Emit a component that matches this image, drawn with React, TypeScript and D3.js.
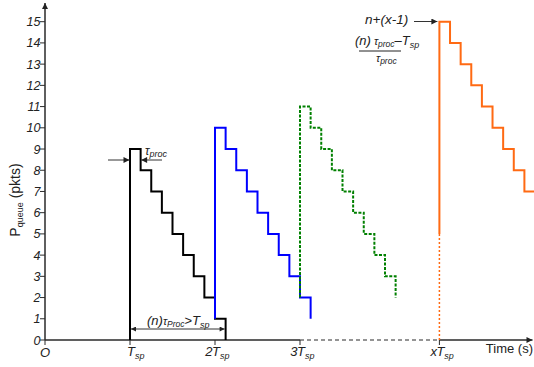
import React from "react";
import * as d3 from "d3";

// ---- Data (time in units of T_sp, queue in packets) ----
const TAU = 0.125; // tau_proc in units of T_sp
const yTicks = [0, 1, 2, 3, 4, 5, 6, 7, 8, 9, 10, 11, 12, 13, 14, 15];
const xTickPos = [1, 2, 3, 4.64];
const xTickPrefix = ["", "2", "3", "x"];

const blackStart = 1;
const blackBase = 0;
const blackLevels = [9, 8, 7, 6, 5, 4, 3, 2, 1];
const blackEnd = 0;

const blueStart = 2;
const blueBase = 1;
const blueLevels = [10, 9, 8, 7, 6, 5, 4, 3, 2];
const blueEnd = 1;

const greenStart = 3;
const greenBase = 2;
const greenLevels = [11, 10, 9, 8, 7, 6, 5, 4, 3];
const greenEnd = 2;

const orangeStart = 4.64;
const orangeHidden = 5; // dotted below this level
const orangeLevels = [15, 14, 13, 12, 11, 10, 9, 8, 7];
const orangeEnd = 7;

const W = 534;
const H = 367;
const FONT = "'Liberation Sans', Arial, sans-serif";

const x = d3.scaleLinear().domain([0, 1]).range([45, 130]);
const y = d3.scaleLinear().domain([0, 15]).range([340, 21.7]);

function stepPoints(start: number, base: number, levels: number[], end: number): [number, number][] {
  const pts: [number, number][] = [[start, base]];
  levels.forEach((l, i) => pts.push([start + i * TAU, l]));
  pts.push([start + levels.length * TAU, end]);
  return pts;
}

const stepLine = d3
  .line<[number, number]>()
  .x((d) => x(d[0]))
  .y((d) => y(d[1]))
  .curve(d3.curveStepAfter);

export default function App() {
  const axisColor = "#2a2a2a";
  const xEnd = 532.5;
  const annColor = "#333";
  return (
    <svg
      width={W}
      height={H}
      style={{ position: "absolute", left: 0, top: 0, background: "#fff" }}
      fontFamily={FONT}
    >
      <defs>
        <marker id="ah" viewBox="0 0 10 10" refX="10" refY="5" markerWidth="7" markerHeight="6" orient="auto" markerUnits="userSpaceOnUse">
          <path d="M0,0 L10,5 L0,10 z" fill="#222" />
        </marker>
        <marker id="ahs" viewBox="0 0 10 10" refX="10" refY="5" markerWidth="7" markerHeight="5" orient="auto-start-reverse" markerUnits="userSpaceOnUse">
          <path d="M0,0 L10,5 L0,10 z" fill="#222" />
        </marker>
      </defs>

      {/* Y axis */}
      <line x1={x(0)} y1={y(0)} x2={x(0)} y2={3} stroke={axisColor} strokeWidth={1.5} markerEnd="url(#ah)" />
      {yTicks.map((t) => (
        <g key={t}>
          <line x1={x(0) - 5} x2={x(0)} y1={y(t)} y2={y(t)} stroke={axisColor} strokeWidth={1} />
          <text x={x(0) - 4.5} y={y(t)} dy="0.36em" textAnchor="end" fontSize={12.5} fontStyle="italic" fill="#222">
            {t}
          </text>
        </g>
      ))}

      {/* X axis */}
      <line x1={x(0)} y1={y(0)} x2={x(3)} y2={y(0)} stroke={axisColor} strokeWidth={1.5} />
      <line x1={x(3)} y1={y(0)} x2={x(orangeStart)} y2={y(0)} stroke={axisColor} strokeWidth={1.2} strokeDasharray="4,3" />
      <line x1={x(orangeStart)} y1={y(0)} x2={xEnd} y2={y(0)} stroke={axisColor} strokeWidth={1.5} markerEnd="url(#ah)" />
      <line x1={x(0)} x2={x(0)} y1={y(0)} y2={y(0) + 5} stroke={axisColor} strokeWidth={1} />
      <text x={x(0)} y={357} textAnchor="middle" fontSize={13} fontStyle="italic" fill="#222">O</text>
      {xTickPos.map((t, i) => (
        <g key={t}>
          <line x1={x(t)} x2={x(t)} y1={y(0)} y2={y(0) + 5} stroke={axisColor} strokeWidth={1} />
          <text x={x(t) - 2.5} y={356} textAnchor="end" fontSize={13} fontStyle="italic" fill="#222">
            {xTickPrefix[i]}
          </text>
          <text x={x(t) - 3} y={356} textAnchor="start" fontSize={13} fontStyle="italic" fill="#222">
            T<tspan fontSize={9} dy={3}>sp</tspan>
          </text>
        </g>
      ))}
      <text x={533} y={353} textAnchor="end" fontSize={13} fill="#222">Time (s)</text>

      {/* Y label */}
      <text transform="translate(20,200) rotate(-90)" textAnchor="middle" fontSize={14} fill="#222">
        P<tspan fontSize={9} dy={3}>queue</tspan>
        <tspan dy={-3}> (pkts)</tspan>
      </text>

      {/* Series */}
      <path d={stepLine(stepPoints(blackStart, blackBase, blackLevels, blackEnd)) || ""} fill="none" stroke="#000" strokeWidth={2} />
      <path d={stepLine(stepPoints(blueStart, blueBase, blueLevels, blueEnd)) || ""} fill="none" stroke="#0000ff" strokeWidth={2} />
      <path d={stepLine(stepPoints(greenStart, greenBase, greenLevels, greenEnd)) || ""} fill="none" stroke="#008000" strokeWidth={2} strokeDasharray="3,1.5" />
      <line x1={x(orangeStart)} x2={x(orangeStart)} y1={y(0)} y2={y(orangeHidden)} stroke="#ff6a13" strokeWidth={1.5} strokeDasharray="2,2" />
      <path d={stepLine(stepPoints(orangeStart, orangeHidden, orangeLevels, orangeEnd)) || ""} fill="none" stroke="#ff6a13" strokeWidth={2} />

      {/* tau_proc annotation */}
      <line x1={108} x2={x(blackStart) - 0.5} y1={160} y2={160} stroke={annColor} strokeWidth={1} markerEnd="url(#ah)" />
      <line x1={162} x2={x(blackStart + TAU) + 0.5} y1={160} y2={160} stroke={annColor} strokeWidth={1} markerEnd="url(#ah)" />
      <text x={145} y={155} fontSize={12} fontStyle="italic" fill="#222">
        τ<tspan fontSize={9} dy={2}>proc</tspan>
      </text>

      {/* (n) tau > Tsp annotation */}
      <line x1={x(blackStart) + 1} x2={x(blackStart + blackLevels.length * TAU) - 1} y1={329} y2={329} stroke={annColor} strokeWidth={1} markerStart="url(#ahs)" markerEnd="url(#ahs)" />
      <text x={147} y={325} fontSize={13} fontStyle="italic" fill="#222">
        (n)<tspan fontSize={11}>τ</tspan>
        <tspan fontSize={8.5} dy={2}>Proc</tspan>
        <tspan dy={-2} fontStyle="normal">&gt;</tspan>T<tspan fontSize={9} dy={3}>sp</tspan>
      </text>

      {/* top right annotation */}
      <text x={365} y={24} fontSize={13.5} fontStyle="italic" fill="#222">n+(x-1)</text>
      <line x1={414} x2={x(orangeStart) - 2} y1={21.5} y2={21.5} stroke={annColor} strokeWidth={1} markerEnd="url(#ah)" />
      <text x={355} y={45} fontSize={13} fontStyle="italic" fill="#222">
        (n)<tspan fontSize={11}> τ</tspan>
        <tspan fontSize={8.5} dy={2}>proc</tspan>
        <tspan dy={-2}>–T</tspan>
        <tspan fontSize={9} dy={3}>sp</tspan>
      </text>
      <line x1={359} x2={401} y1={51} y2={51} stroke="#222" strokeWidth={1} />
      <text x={376} y={62} fontSize={11} fontStyle="italic" fill="#222">
        τ<tspan fontSize={8.5} dy={2}>proc</tspan>
      </text>
    </svg>
  );
}
